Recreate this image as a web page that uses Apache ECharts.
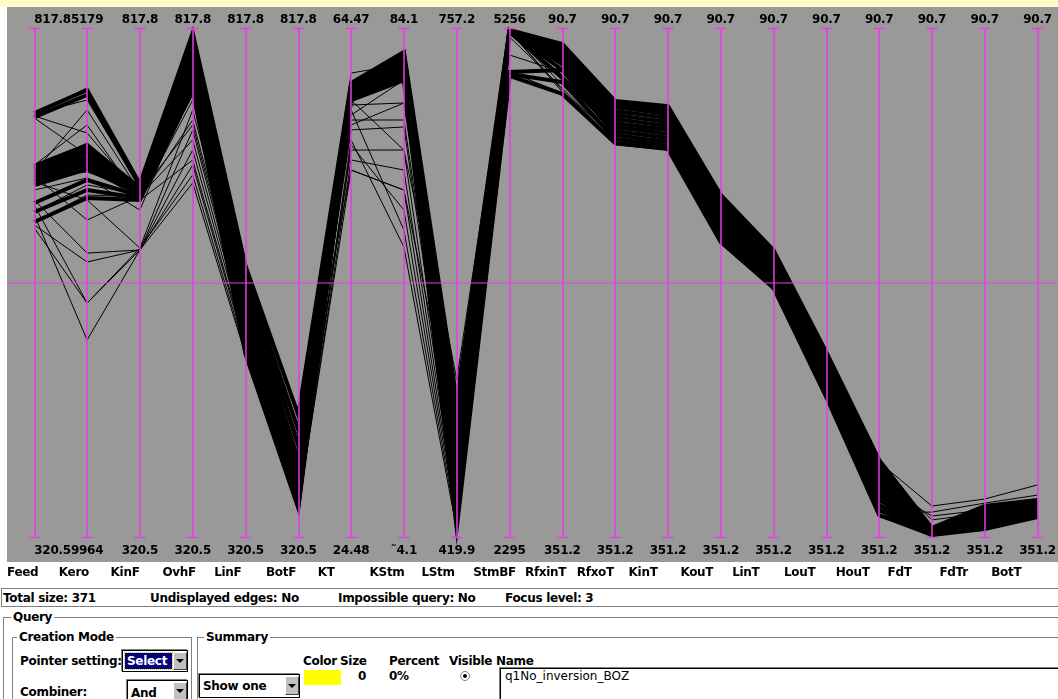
<!DOCTYPE html>
<html>
<head>
<meta charset="utf-8">
<script src="https://cdn.jsdelivr.net/npm/echarts@6/dist/echarts.min.js"></script>
<style>
  html, body { margin: 0; padding: 0; background: #fff; width: 1058px; height: 699px; overflow: hidden; }
  body { position: relative; font-family: "DejaVu Sans", sans-serif; font-weight: bold; font-size: 12px; color: #000; letter-spacing: -0.3px; }
  #strip { position: absolute; left: 0; top: 0; width: 1058px; height: 7px; background: #fffcc8; }
  #plotBg { position: absolute; left: 7px; top: 7px; width: 1051px; height: 555px; background: #999999; }
  #chart { position: absolute; left: 0; top: 0; width: 1058px; height: 585px; }
  .t { position: absolute; white-space: nowrap; line-height: 14px; }
  .box { position: absolute; box-sizing: border-box; }
  .frame { position: absolute; box-sizing: border-box; border: 1px solid #808080; }
  .legend { position: absolute; background: #fff; padding: 0 2px; line-height: 14px; white-space: nowrap; }
  .combo { position: absolute; box-sizing: border-box; background: #fff; border: 1px solid #000; box-shadow: -1px -1px 0 #808080; }
  .btn { position: absolute; box-sizing: border-box; background: #c0c0c0; border-top: 1px solid #fff; border-left: 1px solid #fff; border-right: 1px solid #404040; border-bottom: 1px solid #404040; }
  .btn::after { content: ""; position: absolute; left: 50%; top: 50%; margin-left: -4px; margin-top: -2px; border-left: 4px solid transparent; border-right: 4px solid transparent; border-top: 4px solid #000; }
</style>
</head>
<body>
<div id="strip"></div>
<div id="plotBg"></div>
<div id="chart"></div>
<div id="names"></div>

<!-- status line -->
<div class="box" style="left:1px;top:588px;width:1060px;height:19px;border:1px solid #808080;"></div>
<div class="t" style="left:3px;top:591px;">Total size: 371</div>
<div class="t" style="left:150px;top:591px;">Undisplayed edges: No</div>
<div class="t" style="left:338px;top:591px;">Impossible query: No</div>
<div class="t" style="left:505px;top:591px;">Focus level: 3</div>

<!-- query panel -->
<div class="frame" style="left:3px;top:617px;width:1070px;height:120px;border-right:none;"></div>
<div class="legend" style="left:11px;top:610px;">Query</div>
<div class="frame" style="left:12px;top:637px;width:180px;height:100px;"></div>
<div class="legend" style="left:17px;top:630px;">Creation Mode</div>
<div class="frame" style="left:197px;top:637px;width:880px;height:100px;"></div>
<div class="legend" style="left:204px;top:630px;">Summary</div>

<div class="t" style="left:20px;top:654px;">Pointer setting:</div>
<div class="combo" style="left:122px;top:650px;width:66px;height:22px;"></div>
<div class="t" style="left:125px;top:653px;width:47px;height:16px;line-height:16px;background:#000080;color:#fff;padding-left:2px;box-sizing:border-box;outline:1px dotted #c8c800;">Select</div>
<div class="btn" style="left:173px;top:652px;width:14px;height:18px;"></div>

<div class="t" style="left:20px;top:685px;">Combiner:</div>
<div class="combo" style="left:127px;top:680px;width:61px;height:26px;"></div>
<div class="t" style="left:131px;top:686px;">And</div>
<div class="btn" style="left:173px;top:682px;width:14px;height:18px;"></div>

<div class="combo" style="left:199px;top:674px;width:101px;height:24px;"></div>
<div class="t" style="left:203px;top:679px;">Show one</div>
<div class="btn" style="left:285px;top:676px;width:14px;height:19px;"></div>

<div class="t" style="left:303px;top:654px;">Color</div>
<div class="t" style="left:340px;top:654px;">Size</div>
<div class="t" style="left:389px;top:654px;">Percent</div>
<div class="t" style="left:449px;top:654px;">Visible</div>
<div class="t" style="left:496px;top:654px;">Name</div>
<div class="box" style="left:304px;top:670px;width:37px;height:15px;background:#ffff00;"></div>
<div class="t" style="left:358px;top:669px;">0</div>
<div class="t" style="left:389px;top:669px;">0%</div>
<div class="box" style="left:460px;top:671px;width:10px;height:10px;border:1px solid #808080;border-radius:50%;"></div>
<div class="box" style="left:463px;top:674px;width:4px;height:4px;background:#000;border-radius:50%;"></div>
<div class="box" style="left:500px;top:668px;width:570px;height:40px;border-top:1px solid #000;border-left:1px solid #000;box-shadow:-1px -1px 0 #808080;"></div>
<div class="t" style="left:505px;top:669px;font-weight:normal;letter-spacing:0;">q1No_inversion_BOZ</div>

<script>
// Variables shown on the parallel axes, left to right
const axisNames = ['Feed', 'Kero', 'KinF', 'OvhF', 'LinF', 'BotF', 'KT', 'KStm', 'LStm', 'StmBF',
  'RfxinT', 'RfxoT', 'KinT', 'KouT', 'LinT', 'LouT', 'HouT', 'FdT', 'FdTr', 'BotT'];

// Values at the top and bottom end of each axis
const axisTop = [817.8, 5179, 817.8, 817.8, 817.8, 817.8, 64.47, 84.1, 757.2, 5256,
  90.7, 90.7, 90.7, 90.7, 90.7, 90.7, 90.7, 90.7, 90.7, 90.7];
const axisBottom = [320.5, 9964, 320.5, 320.5, 320.5, 320.5, 24.48, 4.1, 419.9, 2295,
  351.2, 351.2, 351.2, 351.2, 351.2, 351.2, 351.2, 351.2, 351.2, 351.2];

// End labels as printed
const topLabels = ['817.8', '5179', '817.8', '817.8', '817.8', '817.8', '64.47', '84.1', '757.2', '5256',
  '90.7', '90.7', '90.7', '90.7', '90.7', '90.7', '90.7', '90.7', '90.7', '90.7'];
const bottomLabels = ['320.5', '9964', '320.5', '320.5', '320.5', '320.5', '24.48', '\u02dc4.1', '419.9', '2295',
  '351.2', '351.2', '351.2', '351.2', '351.2', '351.2', '351.2', '351.2', '351.2', '351.2'];

// Main bundle of records (dense band)
const coreRecords = [
  [735.2, 5757, 665.9, 813.4, 585.8, 440.2, 60.19, 80.41, 511.0, 5247, 98.6, 127.8, 130.4, 175.9, 204.1, 256.3, 311.5, 346.3, 335.1, 332.0],
  [731.3, 5804, 663.9, 808.5, 578.0, 425.5, 60.03, 80.09, 497.8, 5247, 100.2, 129.3, 132.4, 178.0, 205.6, 258.3, 314.1, 346.9, 336.1, 333.0],
  [683.5, 6274, 662.0, 803.6, 570.1, 410.9, 59.95, 79.78, 484.5, 5247, 101.7, 130.9, 134.5, 180.0, 207.6, 260.4, 316.7, 347.4, 337.1, 333.6],
  [680.5, 6312, 661.0, 798.7, 562.3, 396.2, 59.80, 79.46, 474.6, 5241, 103.2, 132.9, 136.5, 182.1, 209.2, 262.4, 319.2, 347.9, 338.7, 334.6],
  [677.6, 6349, 660.0, 793.9, 554.5, 384.5, 59.72, 79.15, 465.9, 5241, 104.8, 135.0, 138.6, 184.1, 211.2, 264.5, 321.8, 348.4, 339.7, 335.1],
  [674.7, 6387, 659.0, 789.0, 546.7, 374.7, 59.64, 78.83, 458.0, 5241, 106.8, 137.0, 140.6, 186.1, 212.8, 266.5, 324.3, 348.4, 340.7, 336.1],
  [671.7, 6425, 658.1, 784.1, 538.9, 366.9, 59.48, 78.52, 451.4, 5241, 108.9, 139.1, 142.6, 188.2, 214.8, 268.6, 326.9, 348.9, 341.7, 336.6],
  [668.8, 6462, 657.1, 779.2, 531.0, 361.1, 59.40, 78.20, 444.7, 5236, 111.9, 141.1, 144.7, 190.2, 216.3, 270.6, 329.5, 348.9, 342.8, 337.6],
  [664.9, 6500, 656.1, 774.3, 523.2, 357.1, 59.25, 77.73, 439.4, 5236, 116.0, 143.2, 146.7, 192.3, 218.4, 272.6, 332.0, 349.4, 343.8, 338.2],
  [647.3, 6603, 654.2, 769.4, 515.4, 354.2, 59.17, 77.26, 434.8, 5003, 111.9, 145.2, 148.8, 194.9, 219.9, 274.7, 334.6, 349.4, 344.8, 339.2],
  [638.5, 6697, 652.2, 763.6, 507.6, 351.3, 59.01, 76.63, 430.2, 4991, 118.1, 147.3, 150.8, 197.4, 222.0, 277.3, 337.1, 349.9, 345.8, 339.7],
  [628.8, 6772, 650.2, 757.7, 499.8, 349.3, 58.85, 76.00, 426.2, 4980, 124.2, 149.3, 152.4, 200.0, 223.5, 279.3, 339.7, 349.9, 346.9, 340.7]
];

// Individual records that stray from the main bundle
const strayRecords = [
  [735.2, 5738, 664.9, 810.5, 581.9, 352.3, 60.11, 79.93, 427.5, 5247, 99.7, 128.8, 131.4, 176.9, 204.6, 257.3, 312.6, 335.1, 331.5, 324.3],
  [732.3, 6161, 655.1, 752.8, 552.5, 362.0, 58.46, 72.39, 471.2, 5207, 121.2, 147.8, 150.3, 197.9, 222.5, 277.8, 338.2, 338.2, 333.6, 329.5],
  [730.4, 6368, 652.2, 728.4, 533.0, 354.2, 57.28, 69.72, 461.3, 5102, 113.0, 140.1, 141.6, 186.1, 213.3, 266.5, 324.3, 340.2, 337.1, 334.6],
  [677.6, 5945, 658.1, 787.0, 562.3, 376.7, 56.50, 68.62, 451.4, 5241, 102.7, 130.9, 133.4, 180.0, 207.1, 260.4, 316.7, 342.2, 338.7, 335.6],
  [673.7, 6979, 654.2, 708.9, 518.4, 357.1, 54.92, 65.00, 441.4, 5236, 106.8, 136.0, 137.5, 183.6, 210.2, 263.4, 320.8, 348.9, 342.2, 337.1],
  [645.4, 7760, 601.4, 699.1, 513.5, 349.3, 54.14, 61.86, 436.8, 5241, 123.2, 145.7, 147.8, 193.8, 218.9, 273.7, 332.0, 349.4, 345.3, 339.2],
  [635.6, 8107, 601.4, 684.4, 505.6, 351.3, 53.35, 58.71, 432.8, 5247, 105.3, 134.0, 136.0, 182.1, 208.7, 262.4, 318.7, 349.4, 346.3, 340.2],
  [625.8, 7374, 601.4, 666.9, 498.8, 350.3, 55.32, 55.57, 430.2, 5247, 119.6, 144.2, 146.2, 192.3, 217.9, 272.1, 334.6, 349.9, 344.3, 338.7],
  [650.2, 7290, 601.4, 718.6, 523.2, 359.1, 58.07, 52.42, 427.5, 5247, 101.2, 130.4, 132.4, 178.5, 206.1, 259.3, 314.6, 347.9, 338.2, 334.1],
  [622.9, 7760, 603.3, 674.7, 501.7, 353.2, 55.71, 49.75, 424.9, 5241, 109.9, 138.0, 139.6, 187.7, 214.3, 268.6, 327.9, 348.4, 340.2, 336.1],
  [667.8, 6791, 603.3, 738.2, 542.8, 366.9, 56.89, 72.39, 524.3, 5236, 114.5, 142.1, 144.2, 190.8, 216.3, 270.6, 329.5, 348.9, 343.3, 337.6],
  [660.0, 6584, 640.5, 762.6, 567.2, 386.4, 58.85, 65.00, 514.3, 5247, 104.3, 133.4, 135.5, 181.5, 208.2, 261.9, 317.7, 348.9, 341.2, 336.6],
  [684.4, 6086, 650.2, 747.9, 547.7, 371.8, 60.97, 78.52, 491.1, 5247, 101.7, 131.4, 134.0, 180.5, 207.6, 260.9, 315.6, 348.4, 339.2, 335.1],
  [679.6, 6255, 662.0, 801.7, 577.0, 415.8, 53.35, 58.71, 481.2, 5003, 123.7, 150.3, 152.9, 200.5, 224.5, 280.8, 340.7, 349.4, 347.4, 341.2],
  [671.7, 6528, 659.0, 772.4, 557.4, 425.5, 57.67, 76.00, 504.4, 5247, 99.1, 128.3, 130.9, 176.4, 203.5, 256.8, 313.1, 347.9, 336.6, 332.5],
  [664.9, 6462, 650.2, 689.3, 508.6, 357.1, 59.25, 77.58, 444.7, 5247, 117.1, 146.7, 149.3, 195.9, 221.0, 275.7, 336.1, 349.9, 345.8, 339.7],
  [681.5, 6415, 657.1, 723.5, 528.1, 362.0, 59.80, 79.46, 434.8, 5241, 122.2, 148.8, 151.4, 198.9, 223.5, 279.3, 339.7, 349.9, 346.9, 340.7],
  [734.3, 5851, 663.0, 796.8, 572.1, 396.2, 59.64, 78.83, 467.9, 5247, 100.7, 129.9, 131.9, 178.0, 205.1, 258.8, 313.6, 347.4, 335.6, 333.6],
  [638.5, 6650, 656.1, 781.2, 564.3, 406.0, 59.48, 78.20, 454.7, 5247, 107.8, 137.5, 140.1, 185.6, 212.3, 265.5, 322.8, 348.9, 341.7, 336.6],
  [628.8, 6744, 653.2, 765.5, 542.8, 368.9, 59.09, 76.79, 448.0, 5241, 111.9, 140.6, 143.2, 189.2, 215.3, 269.6, 325.9, 349.4, 342.8, 337.6]
];

const MAGENTA = '#e83ce8';
const AXIS_FONT = { fontFamily: 'DejaVu Sans', fontWeight: 'bold', fontSize: 12, color: '#000' };

// Variable names printed under the plot area
const namesRow = document.getElementById('names');
axisNames.forEach(function (n, i) {
  const s = document.createElement('div');
  s.className = 't';
  s.style.left = (7 + 51.8 * i) + 'px';
  s.style.top = '565px';
  s.textContent = n;
  namesRow.appendChild(s);
});

const parallelAxis = axisNames.map(function (name, i) {
  const inverse = axisTop[i] < axisBottom[i];
  const lo = Math.min(axisTop[i], axisBottom[i]);
  const hi = Math.max(axisTop[i], axisBottom[i]);
  const first = i === 0;
  return {
    dim: i,
    name: topLabels[i],
    nameLocation: inverse ? 'start' : 'end',
    nameGap: 3,
    nameTextStyle: Object.assign({}, AXIS_FONT, { align: first ? 'left' : 'center', verticalAlign: 'bottom' }),
    min: lo,
    max: hi,
    interval: hi - lo,
    inverse: inverse,
    z: 10,
    axisLine: {
      show: true,
      symbol: ['rect', 'rect'],
      symbolSize: [11, 1.5],
      lineStyle: { color: MAGENTA, width: 1.5, opacity: 1 }
    },
    axisTick: { show: false },
    splitLine: { show: false },
    axisLabel: {
      show: true,
      margin: 0,
      align: first ? 'left' : 'center',
      verticalAlign: 'top',
      padding: [7, 0, 0, 0],
      fontFamily: AXIS_FONT.fontFamily,
      fontWeight: AXIS_FONT.fontWeight,
      fontSize: AXIS_FONT.fontSize,
      color: '#000',
      showMinLabel: true,
      showMaxLabel: true,
      formatter: function (v) {
        return Math.abs(v - axisBottom[i]) < 1e-6 ? bottomLabels[i] : '';
      }
    }
  };
});

const chart = echarts.init(document.getElementById('chart'), null, { renderer: 'canvas' });
chart.setOption({
  animation: false,
  backgroundColor: 'transparent',
  parallel: {
    left: 34.3,
    right: 20.5,
    top: 28.5,
    bottom: 47.5,
    layout: 'horizontal'
  },
  parallelAxis: parallelAxis,
  graphic: [{
    type: 'line',
    z: 20,
    silent: true,
    shape: { x1: 7, y1: 283, x2: 1058, y2: 283 },
    style: { stroke: MAGENTA, lineWidth: 1 }
  }],
  series: [
    {
      type: 'parallel',
      silent: true,
      z: 2,
      data: coreRecords,
      lineStyle: { color: '#000', width: 4, opacity: 1 },
      emphasis: { disabled: true }
    },
    {
      type: 'parallel',
      silent: true,
      z: 3,
      data: strayRecords,
      lineStyle: { color: '#000', width: 1, opacity: 1 },
      emphasis: { disabled: true }
    }
  ]
});
</script>
</body>
</html>
